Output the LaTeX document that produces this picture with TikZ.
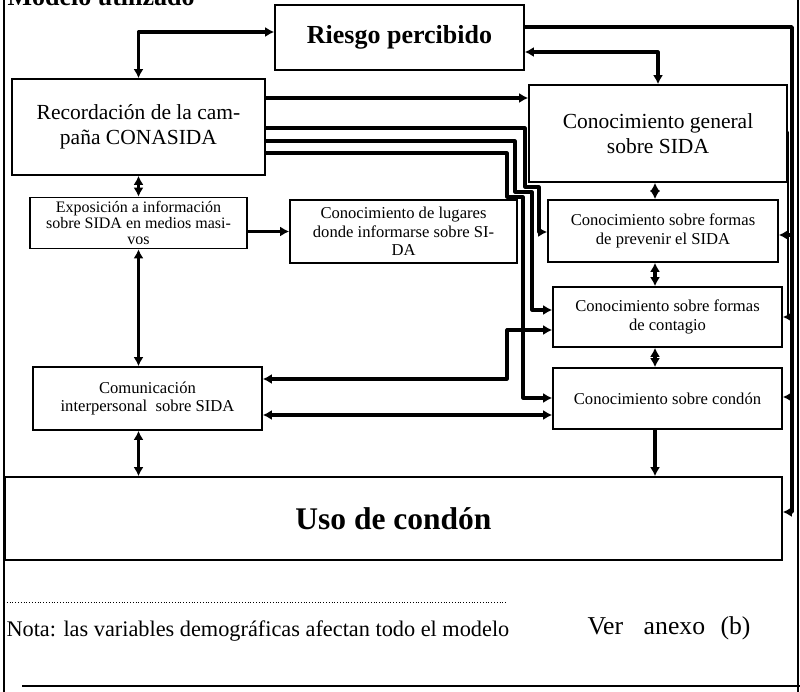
\documentclass[tikz,border=0pt]{standalone}
\usepackage{fontspec}
\setmainfont{Liberation Serif}
\usetikzlibrary{arrows.meta}

\begin{document}
\begin{tikzpicture}[
    x=1pt, y=-1pt,
    box/.style = {draw, line width=1.6pt, align=center, inner sep=0pt},
    big/.style = {font=\fontsize{21.5}{25}\selectfont},
    small/.style = {font=\fontsize{16.6}{18.5}\selectfont},
    head/.style = {font=\bfseries\fontsize{26}{28}\selectfont},
    link/.style = {line width=3.2pt, line join=round, {Latex[length=9pt,width=10pt]}-{Latex[length=9pt,width=10pt]}},
    oneway/.style = {line width=3.2pt, line join=round, -{Latex[length=9pt,width=10pt]}}
]
\useasboundingbox (0,0) rectangle (800,692);

\node[anchor=base west, font=\bfseries\fontsize{26}{28}\selectfont] (titulo) at (4,6) {Modelo utilizado};

\node[box, head, minimum width=249, minimum height=65] (riesgo) at (399.5,37.5) {Riesgo percibido};
\node[box, big, minimum width=253, minimum height=96] (recuerdo) at (138.5,127) {Recordación de la cam-\\paña CONASIDA};
\node[box, big, minimum width=258, minimum height=97] (general) at (658,133.5) {Conocimiento general\\sobre SIDA};
\node[box, font=\fontsize{16}{16}\selectfont, minimum width=217, minimum height=51] (exposicion) at (138.5,223) {Exposición a información\\sobre SIDA en medios masi-\\vos};
\node[box, small, minimum width=227, minimum height=63] (lugares) at (403.5,231.5) {Conocimiento de lugares\\donde informarse sobre SI-\\DA};
\node[box, small, minimum width=230, minimum height=62] (prevenir) at (663,231) {Conocimiento sobre formas\\de prevenir el SIDA};
\node[box, small, minimum width=229, minimum height=60] (contagio) at (667.5,317) {Conocimiento sobre formas\\de contagio};
\node[box, small, minimum width=229, minimum height=61] (condon) at (667.5,398.5) {Conocimiento sobre condón};
\node[box, small, minimum width=229, minimum height=63] (comunicacion) at (147.5,398.5) {Comunicación\\interpersonal\ \ sobre SIDA};
\node[box, font=\bfseries\fontsize{31.5}{33}\selectfont, minimum width=777, minimum height=83] (uso) at (393.5,518.5) {Uso de condón};

\coordinate (bus) at (792,0);
\coordinate (sub) at (788,0);

\draw[link] (riesgo.west |- 0,32) -| (recuerdo.north);
\draw[link] (riesgo.east |- 0,52) -| (general.north);
\draw[oneway, line width=3.6pt] (riesgo.east |- 0,27) -- (bus |- 0,27) -- (bus |- 0,512) -- (uso.east |- 0,512);
\draw[oneway, line width=2pt] (general.east |- 0,132) -- (sub |- 0,132) -- (sub |- 0,317) -- (contagio.east |- 0,317);
\draw[oneway] (bus |- 0,235) -- (prevenir.east |- 0,235);
\draw[oneway] (bus |- 0,397) -- (condon.east |- 0,397);

\draw[oneway] (recuerdo.east |- 0,98) -- (general.west |- 0,98);
\draw[oneway] (recuerdo.east |- 0,128) -| (525,187) -| (539,232) -- (prevenir.west |- 0,232);
\draw[oneway] (recuerdo.east |- 0,141) -| (515,192) -| (532,310) -- (contagio.west |- 0,310);
\draw[oneway] (recuerdo.east |- 0,153) -| (507,197) -| (523,398) -- (condon.west |- 0,398);

\draw[link] (recuerdo.south) -- (exposicion.north);
\draw[oneway] (exposicion.east |- lugares.west) -- (lugares.west);
\draw[link] (exposicion.south) -- (exposicion.south |- comunicacion.north);
\draw[link] (comunicacion.south -| exposicion.south) -- (uso.north -| exposicion.south);
\draw[link] (comunicacion.east |- 0,379) -| (507,330) -- (contagio.west |- 0,330);
\draw[link] (comunicacion.east |- 0,415) -- (condon.west |- 0,415);

\draw[link] (general.south -| 655,0) -- (prevenir.north -| 655,0);
\draw[link] (prevenir.south -| 655,0) -- (contagio.north -| 655,0);
\draw[link] (contagio.south -| 655,0) -- (condon.north -| 655,0);
\draw[oneway] (condon.south -| 655,0) -- (uso.north -| 655,0);

\draw[line width=1.4pt] (4,0) -- (4,692);
\draw[line width=1.4pt] (798,0) -- (798,692);
\draw[line width=2pt] (22,686) -- (800,686);
\draw[dotted, line width=0.8pt] (4,602) -- (507,602);

\node[anchor=west, font=\fontsize{22.3}{24}\selectfont] (nota) at (3,631) {Nota: las variables demográficas afectan todo el modelo};
\node[font=\fontsize{25.7}{28}\selectfont] (anexo) at (669,628) {Ver\hspace{0.8em}anexo\hspace{0.6em}(b)};

\end{tikzpicture}
\end{document}
